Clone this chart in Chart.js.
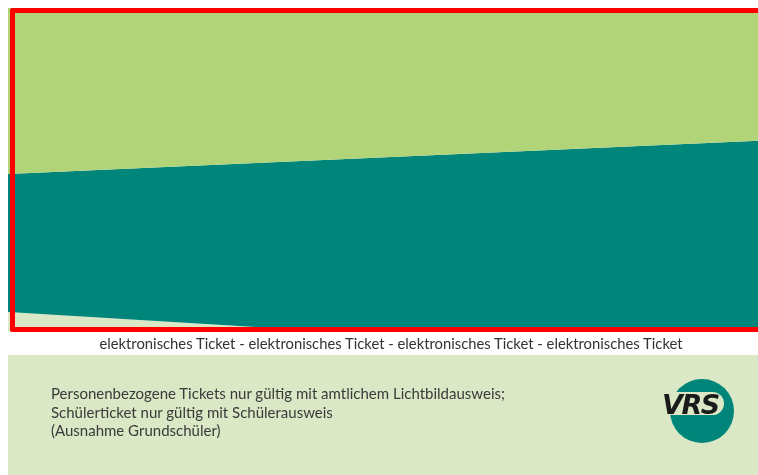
<!DOCTYPE html>
<html>
<head>
<meta charset="utf-8">
<script src="https://cdn.jsdelivr.net/npm/chart.js@4/dist/chart.umd.min.js"></script>
<style>
  html, body { margin: 0; padding: 0; width: 758px; height: 475px; overflow: hidden; background: #ffffff; }
  #wrap { position: relative; width: 758px; height: 475px; }
  #panel { position: absolute; left: 8px; top: 8px; width: 750px; height: 324px; }
  #frame { position: absolute; left: 10px; top: 8px; width: 760px; height: 314px; border: 5px solid #ff0000; border-radius: 2px; }
  #strip { position: absolute; left: 0; top: 335px; width: 782px; text-align: center; font-family: Lato, "Open Sans", sans-serif; font-size: 14.8px; line-height: 17px; color: #333333; white-space: nowrap; }
  #info { position: absolute; left: 8px; top: 355px; width: 750px; height: 120px; background: #dae8c5; }
  #notes { position: absolute; left: 43px; top: 29px; font-family: Lato, "Open Sans", sans-serif; font-size: 15px; line-height: 18.7px; color: #3a3a3a; white-space: nowrap; }
  #logo { position: absolute; left: 650px; top: 20px; }
</style>
</head>
<body>
<div id="wrap">
  <div id="panel"><canvas id="c" width="750" height="324"></canvas></div>
  <div id="frame"></div>
  <div id="strip"></div>
  <div id="info">
    <div id="notes"></div>
    <svg id="logo" width="90" height="80" viewBox="0 0 90 80">
      <circle cx="44" cy="36" r="32" fill="#00857a"/>
      <rect x="4" y="17" width="62" height="23" rx="11.5" ry="11.5" fill="#dae8c5"/>
      <text x="4" y="38.5" font-family="'DejaVu Sans', Arial, sans-serif" font-weight="bold" font-style="italic" font-size="27" fill="#1a1a1a" letter-spacing="-1.5">VRS</text>
    </svg>
  </div>
</div>
<script>
// Panel geometry data (x across the panel 0..750, y as percent of panel height)
const xStops = [0, 750];
const tealUpper = [48.8, 59.0];
const tealLower = [6.2, -7.9];
const stripText = "elektronisches Ticket - elektronisches Ticket - elektronisches Ticket - elektronisches Ticket";
const noteLines = [
  "Personenbezogene Tickets nur gültig mit amtlichem Lichtbildausweis;",
  "Schülerticket nur gültig mit Schülerausweis",
  "(Ausnahme Grundschüler)"
];

document.getElementById('strip').textContent = stripText;
document.getElementById('notes').innerHTML = noteLines.map(function (l) {
  return '<div>' + l.replace(/&/g, '&amp;').replace(/</g, '&lt;') + '</div>';
}).join('');

function pts(ys) { return xStops.map(function (x, i) { return { x: x, y: ys[i] }; }); }

new Chart(document.getElementById('c'), {
  type: 'line',
  data: {
    datasets: [
      { label: 'oben', data: pts(tealUpper), fill: 'end', backgroundColor: '#b1d479', borderWidth: 0, pointRadius: 0 },
      { label: 'Band', data: pts(tealUpper), fill: '+1', backgroundColor: '#00857a', borderWidth: 0, pointRadius: 0 },
      { label: 'unten', data: pts(tealLower), fill: 'start', backgroundColor: '#dae8c5', borderWidth: 0, pointRadius: 0 }
    ]
  },
  options: {
    responsive: false,
    animation: false,
    layout: { padding: 0 },
    plugins: { legend: { display: false }, tooltip: { enabled: false } },
    elements: { line: { tension: 0 } },
    scales: {
      x: { type: 'linear', min: 0, max: 750, display: false },
      y: { type: 'linear', min: 0, max: 100, display: false }
    }
  }
});
</script>
</body>
</html>
